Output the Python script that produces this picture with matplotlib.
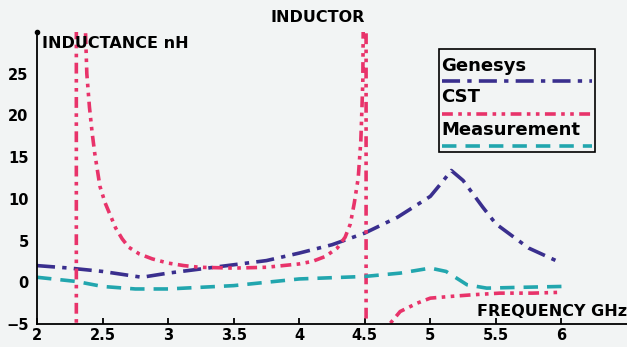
import matplotlib
matplotlib.use("Agg")
import matplotlib.pyplot as plt
from matplotlib.patches import Rectangle

plt.rcParams['font.family'] = ['DejaVu Sans']
plt.rcParams['font.weight'] = 'bold'

BG = "#f2f4f4"
GEN_COLOR = "#3a2f8e"
CST_COLOR = "#e8336a"
MEAS_COLOR = "#22a6ae"

X_TICKS = [2, 2.5, 3, 3.5, 4, 4.5, 5, 5.5, 6]
X_TICK_LABELS = ["2", "2.5", "3", "3.5", "4", "4.5", "5", "5.5", "6"]
Y_TICKS = [-5, 0, 5, 10, 15, 20, 25]

gen_f = [2.0, 2.25, 2.5, 2.8, 3.0, 3.25, 3.5, 3.75, 4.0, 4.25, 4.5, 4.75, 5.0, 5.1, 5.16, 5.25, 5.4, 5.5, 5.75, 6.0]
gen_l = [2.0, 1.7, 1.3, 0.6, 1.1, 1.6, 2.1, 2.6, 3.5, 4.5, 5.9, 7.8, 10.3, 12.2, 13.4, 12.2, 9.0, 7.0, 4.1, 2.3]

cst_f = [2.30, 2.30, 2.37, 2.38, 2.40, 2.42, 2.44, 2.46, 2.48, 2.52, 2.56, 2.60, 2.65, 2.70, 2.78, 2.88,
         3.0, 3.12, 3.24, 3.5, 3.75, 4.0, 4.1, 4.2, 4.29, 4.35, 4.39, 4.42, 4.45, 4.47, 4.485, 4.495,
         4.51, 4.51, 4.66, 4.69, 4.77, 4.90, 5.0, 5.15, 5.32, 5.53, 5.78, 6.0]
cst_l = [-45, 45, 30, 25, 21, 18, 15.5, 13.5, 11.5, 9.5, 8.0, 6.5, 5.2, 4.2, 3.4, 2.8,
         2.3, 2.0, 1.8, 1.7, 1.8, 2.2, 2.5, 3.1, 4.1, 5.4, 7.0, 9.5, 12.5, 17, 24, 45,
         45, -45, -10, -5, -3.5, -2.5, -1.9, -1.7, -1.5, -1.3, -1.3, -1.2]

meas_f = [2.0, 2.3, 2.5, 2.75, 3.0, 3.5, 4.0, 4.5, 4.77, 5.0, 5.12, 5.28, 5.43, 5.7, 6.0]
meas_l = [0.6, 0.1, -0.5, -0.8, -0.8, -0.4, 0.4, 0.7, 1.1, 1.7, 1.3, -0.3, -0.7, -0.6, -0.5]

GEN_DASH = (5, 2, 1.2, 2)
CST_DASH = (3, 1.5, 1, 1.5, 1, 1.5)
MEAS_DASH = (4, 2.5)

fig = plt.figure(figsize=(6.27, 3.47), dpi=100, facecolor=BG)
ax = fig.add_axes([37/627, 23/347, 590/627, 292/347])
ax.set_facecolor(BG)

ax.plot(gen_f, gen_l, color=GEN_COLOR, lw=2.6, dashes=GEN_DASH)
ax.plot(cst_f, cst_l, color=CST_COLOR, lw=2.6, dashes=CST_DASH)
ax.plot(meas_f, meas_l, color=MEAS_COLOR, lw=2.6, dashes=MEAS_DASH)

ax.set_xlim(2, 6.5)
ax.set_ylim(-5, 30)
ax.set_xticks(X_TICKS)
ax.set_xticklabels(X_TICK_LABELS)
ax.set_yticks(Y_TICKS)
for s in ["top", "right"]:
    ax.spines[s].set_visible(False)
ax.spines["left"].set_linewidth(1.3)
ax.spines["bottom"].set_linewidth(1.3)
ax.tick_params(axis="x", direction="in", length=4, width=1.3, labelsize=10.5, pad=3)
ax.tick_params(axis="y", length=0, labelsize=10.5, pad=6)
for lab in ax.get_xticklabels() + ax.get_yticklabels():
    lab.set_fontweight("bold")

ax.plot([0], [1], "o", color="black", ms=3, transform=ax.transAxes, clip_on=False)

fig.text(318/627, 1 - 17/347, "INDUCTOR", ha="center", va="center", fontsize=11.5, fontweight="bold")
fig.text(42/627, 1 - 43/347, "INDUCTANCE nH", ha="left", va="center", fontsize=11.5, fontweight="bold")
fig.text(627/627, 1 - 311/347, "FREQUENCY GHz", ha="right", va="center", fontsize=11.5, fontweight="bold")

# legend drawn by hand: label row above each line sample
x0, x1 = (439 - 37) / 590, (595 - 37) / 590
y0, y1 = (324 - 152) / 292, (324 - 49) / 292
ax.add_patch(Rectangle((x0, y0), x1 - x0, y1 - y0, transform=ax.transAxes,
                       facecolor=BG, edgecolor="black", lw=1.2, zorder=5))
entries = [("Genesys", GEN_COLOR, GEN_DASH, 66, 81),
           ("CST", CST_COLOR, CST_DASH, 97, 114),
           ("Measurement", MEAS_COLOR, MEAS_DASH, 130, 146)]
for name, col, dash, ty, ly in entries:
    ax.text((441 - 37) / 590, (324 - ty) / 292, name, transform=ax.transAxes,
            ha="left", va="center", fontsize=13, fontweight="bold", zorder=6)
    ax.plot([(442 - 37) / 590, (592 - 37) / 590], [(324 - ly) / 292] * 2, transform=ax.transAxes,
            color=col, lw=2.6, dashes=dash, zorder=6)

fig.savefig("out.png", dpi=100, facecolor=BG)
